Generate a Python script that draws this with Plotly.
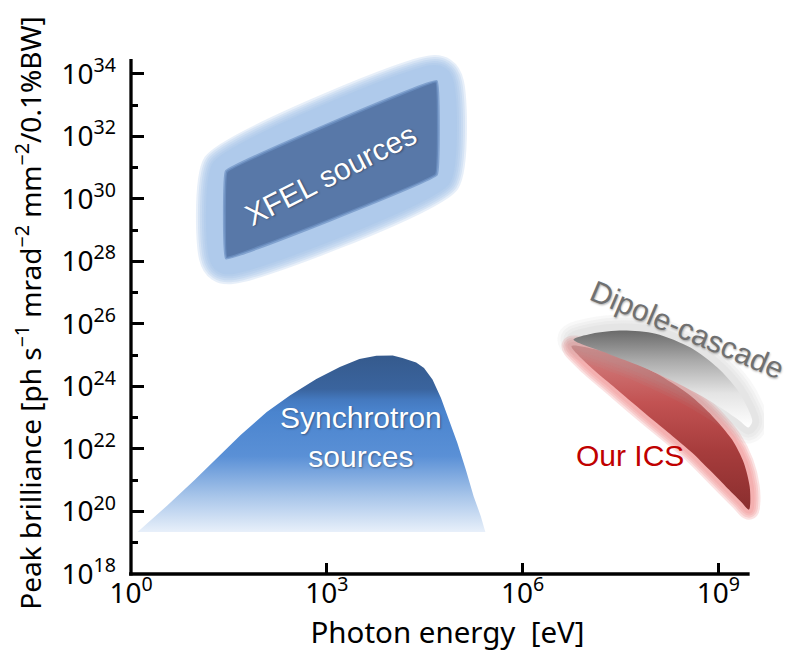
import numpy as np
import plotly.graph_objects as go

# tick exponents (log10)
x_tick_exp = [0, 3, 6, 9]
y_tick_exp = [18, 20, 22, 24, 26, 28, 30, 32, 34]
y_minor_exp = [19, 21, 23, 25, 27, 29, 31, 33]

# region outlines as log10(photon energy [eV]) / log10(brilliance)
xfel_log_e = [1.46, 1.46, 4.68, 4.68]
xfel_log_b = [28.11, 30.88, 33.76, 30.78]

sync_log_e = [0.10, 0.56, 0.97, 1.32, 1.68, 2.08, 2.44, 2.84, 3.20, 3.50, 3.76, 4.01,
              4.16, 4.37, 4.49, 4.62, 4.75, 4.87, 5.00, 5.13, 5.25, 5.36, 5.43]
sync_log_b = [19.34, 20.20, 21.00, 21.72, 22.45, 23.18, 23.72, 24.24, 24.62, 24.88, 24.98, 24.99,
              24.91, 24.77, 24.59, 24.22, 23.63, 22.94, 22.20, 21.34, 20.49, 19.85, 19.34]

ics_log_e = [6.75, 7.13, 7.54, 8.04, 8.55, 8.91, 9.21, 9.39, 9.48, 9.49, 9.47,
             9.34, 9.11, 8.86, 8.60, 8.30, 7.99, 7.69, 7.39, 7.03]
ics_log_b = [25.29, 25.18, 24.91, 24.43, 23.74, 23.05, 22.30, 21.56, 20.81, 20.28, 20.06,
             20.33, 20.81, 21.34, 21.88, 22.41, 22.94, 23.47, 24.01, 24.65]

dipole_log_e = [6.78, 7.06, 7.54, 8.04, 8.58, 8.99, 9.29, 9.46, 9.52, 9.46,
                9.34, 9.08, 8.73, 8.32, 7.82, 7.31]
dipole_log_b = [25.50, 25.69, 25.79, 25.69, 25.24, 24.60, 23.90, 23.26, 22.88, 22.69,
                22.88, 23.26, 23.71, 24.16, 24.64, 25.05]

X_RANGE = [0, 9.7]
Y_RANGE = [18, 34.7]
X_AXIS_END = 9.48
Y_AXIS_END = 34.48


def closed(le, lb):
    e = np.power(10.0, le + le[:1])
    b = np.power(10.0, lb + lb[:1])
    return e, b


def add_glow(fig, e, b, rgb, widths, alpha, shape="linear", smoothing=0):
    for w in widths:
        fig.add_trace(go.Scatter(
            x=e, y=b, mode="lines",
            line=dict(color=f"rgba({rgb},{alpha})", width=w, shape=shape, smoothing=smoothing),
            hoverinfo="skip", showlegend=False))


fig = go.Figure()

# synchrotron sources
e, b = closed(sync_log_e, sync_log_b)
fig.add_trace(go.Scatter(
    x=e, y=b, mode="lines", fill="toself",
    line=dict(width=0, color="rgba(0,0,0,0)"),
    fillgradient=dict(type="vertical", colorscale=[
        [0.0, "#E8F0FA"], [0.2, "#A9C6EA"], [0.43, "#5A90D6"], [0.68, "#4A84CE"],
        [0.75, "#4479BF"], [0.81, "#3A649E"], [1.0, "#355A8D"]]),
    hoverinfo="skip", showlegend=False))

# XFEL sources
e, b = closed(xfel_log_e, xfel_log_b)
add_glow(fig, e, b, "160,193,232", [52, 48, 44, 40, 36, 32], 0.25, "spline", 0.35)
fig.add_trace(go.Scatter(
    x=e, y=b, mode="lines", fill="toself", fillcolor="#5878A8",
    line=dict(width=3, color="rgba(110,145,195,0.7)", shape="spline", smoothing=0.15),
    hoverinfo="skip", showlegend=False))

# our ICS
e, b = closed(ics_log_e, ics_log_b)
add_glow(fig, e, b, "240,140,140", [20, 16, 12, 8], 0.25, "spline", 0.8)
fig.add_trace(go.Scatter(
    x=e, y=b, mode="lines", fill="toself",
    line=dict(width=0, color="rgba(0,0,0,0)", shape="spline", smoothing=0.8),
    fillgradient=dict(type="vertical", colorscale=[
        [0.0, "#8A2E2E"], [0.35, "#A63C3C"], [0.65, "#C25252"], [1.0, "#D58585"]]),
    hoverinfo="skip", showlegend=False))

# dipole cascade
e, b = closed(dipole_log_e, dipole_log_b)
add_glow(fig, e, b, "160,160,160", [32, 26, 20, 14], 0.08, "spline", 0.8)
fig.add_trace(go.Scatter(
    x=e, y=b, mode="lines", fill="toself",
    line=dict(width=0, color="rgba(0,0,0,0)", shape="spline", smoothing=0.8),
    fillgradient=dict(type="vertical", colorscale=[
        [0.0, "#FFFFFF"], [0.35, "#E4E4E4"], [0.7, "#A8A8A8"], [1.0, "#6A6A6A"]]),
    hoverinfo="skip", showlegend=False))

label_font = dict(family="Liberation Sans, Arial", size=30)
fig.add_annotation(x=3.06, y=30.78, text="XFEL sources", showarrow=False, textangle=-27,
                   font=dict(label_font, color="white", shadow="1px 1px 2px rgba(0,0,0,0.35)"))
fig.add_annotation(x=3.52, y=22.37, text="Synchrotron<br>sources", showarrow=False,
                   font=dict(label_font, color="white", shadow="1px 1px 2px rgba(0,0,0,0.35)"))
fig.add_annotation(x=8.52, y=25.82, text="Dipole-cascade", showarrow=False, textangle=23,
                   font=dict(label_font, color="#707070", shadow="1px 1px 2px rgba(0,0,0,0.3)"))
fig.add_annotation(x=7.64, y=21.80, text="Our ICS", showarrow=False,
                   font=dict(label_font, color="#C00000"))

# axis lines (plot area is a bit wider than the drawn axes so glows are not clipped)
fig.add_shape(type="line", xref="paper", yref="paper",
              x0=-0.003, x1=X_AXIS_END / X_RANGE[1], y0=0, y1=0,
              line=dict(color="black", width=3.3))
fig.add_shape(type="line", xref="paper", yref="paper", x0=0, x1=0, y0=-0.003,
              y1=(Y_AXIS_END - Y_RANGE[0]) / (Y_RANGE[1] - Y_RANGE[0]),
              line=dict(color="black", width=3.3))

tick_font = dict(family="Noto Sans", size=28, color="black")
fig.update_xaxes(
    type="log", range=X_RANGE, showgrid=False, zeroline=False, showline=False,
    tickvals=[10.0 ** p for p in x_tick_exp],
    ticktext=[f"10<sup>{p}</sup>" for p in x_tick_exp],
    ticks="inside", ticklen=11, tickwidth=3, tickcolor="black", tickfont=tick_font,
    title=dict(text="Photon energy  [eV]",
               font=dict(family="Noto Sans", size=29.5, color="black"), standoff=0))
fig.update_yaxes(
    type="log", range=Y_RANGE, showgrid=False, zeroline=False, showline=False,
    tickvals=[10.0 ** p for p in y_tick_exp],
    ticktext=[f"10<sup>{p}</sup>" for p in y_tick_exp],
    ticks="inside", ticklen=13, tickwidth=3, tickcolor="black", tickfont=tick_font,
    ticklabelstandoff=14,
    minor=dict(tickvals=[10.0 ** p for p in y_minor_exp], ticks="inside", ticklen=7,
               tickwidth=3, tickcolor="black", showgrid=False),
    title=dict(text="Peak brilliance [ph s<sup>\u22121</sup> mrad<sup>\u22122</sup> "
                    "mm<sup>\u22122</sup>/0.1%BW]",
               font=dict(family="Noto Sans", size=28, color="black"), standoff=22))

fig.update_layout(
    width=785, height=651,
    margin=dict(l=118.5, r=29.2, t=44.3, b=84.5),
    plot_bgcolor="white", paper_bgcolor="white",
    showlegend=False,
)

fig.write_html("out.html")
